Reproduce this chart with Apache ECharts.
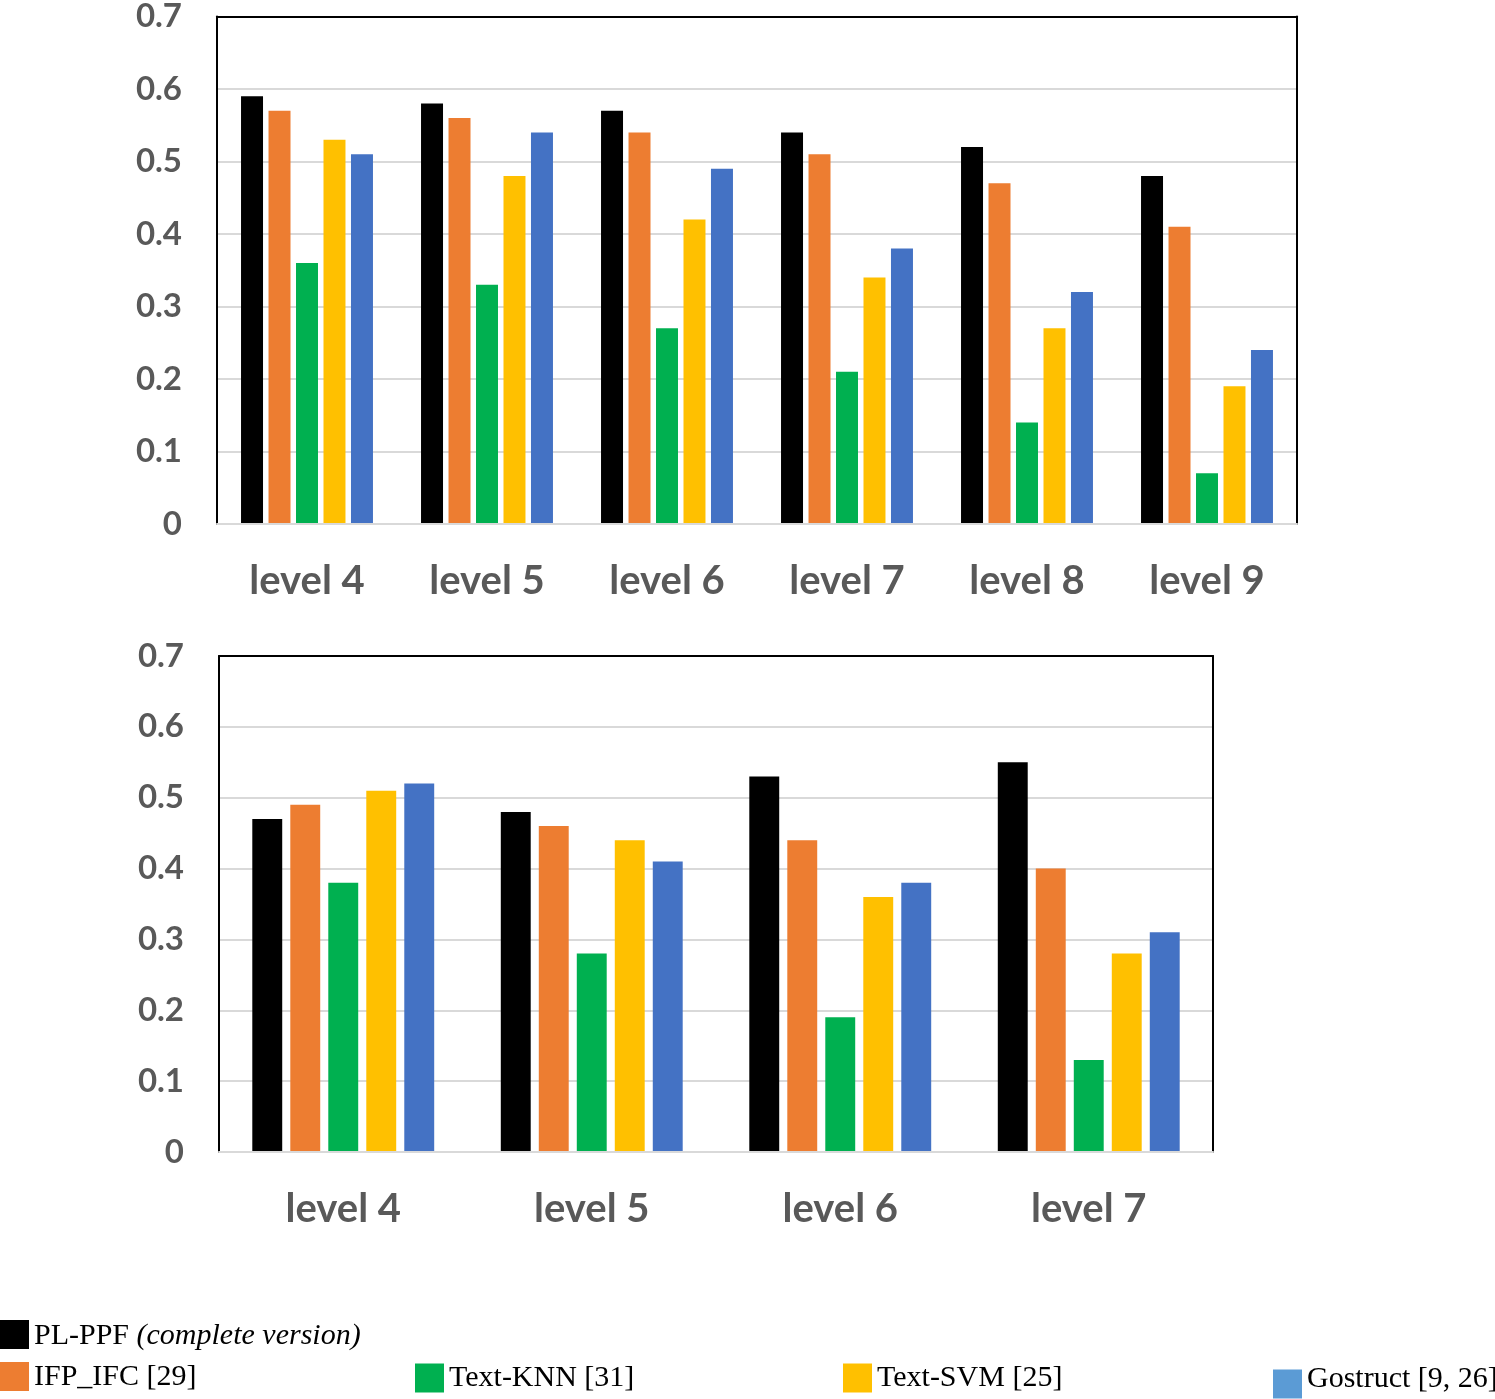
<!DOCTYPE html>
<html>
<head>
<meta charset="utf-8">
<script src="https://cdn.jsdelivr.net/npm/echarts@6/dist/echarts.min.js"></script>
<style>
html,body{margin:0;padding:0;background:#fff;}
#chart{width:1495px;height:1399px;}
</style>
</head>
<body>
<div id="chart"></div>
<script>
// ---- Data ----
const topCategories = ['level 4', 'level 5', 'level 6', 'level 7', 'level 8', 'level 9'];
const bottomCategories = ['level 4', 'level 5', 'level 6', 'level 7'];
const seriesNames = ['PL-PPF (complete version)', 'IFP_IFC [29]', 'Text-KNN [31]', 'Text-SVM [25]', 'Gostruct [9, 26]'];

const topPLPPF    = [0.59, 0.58, 0.57, 0.54, 0.52, 0.48];
const topIFPIFC   = [0.57, 0.56, 0.54, 0.51, 0.47, 0.41];
const topTextKNN  = [0.36, 0.33, 0.27, 0.21, 0.14, 0.07];
const topTextSVM  = [0.53, 0.48, 0.42, 0.34, 0.27, 0.19];
const topGostruct = [0.51, 0.54, 0.49, 0.38, 0.32, 0.24];

const botPLPPF    = [0.47, 0.48, 0.53, 0.55];
const botIFPIFC   = [0.49, 0.46, 0.44, 0.40];
const botTextKNN  = [0.38, 0.28, 0.19, 0.13];
const botTextSVM  = [0.51, 0.44, 0.36, 0.28];
const botGostruct = [0.52, 0.41, 0.38, 0.31];

const yTickLabels = ['0', '0.1', '0.2', '0.3', '0.4', '0.5', '0.6', '0.7'];

// ---- Styles ----
const colors = ['#000000', '#ED7D31', '#00B050', '#FFC000', '#4472C4'];
const legendColors = ['#000000', '#ED7D31', '#00B050', '#FFC000', '#5B9BD5'];
const labelFont = 'Lato, "Open Sans", sans-serif';
const labelColor = '#595959';

const topData = [topPLPPF, topIFPIFC, topTextKNN, topTextSVM, topGostruct];
const botData = [botPLPPF, botIFPIFC, botTextKNN, botTextSVM, botGostruct];

const grids = [
  {left: 217, top: 14, width: 1080, height: 510},
  {left: 219, top: 656, width: 994, height: 496}
];

function catAxes(gi, cats) {
  return [
    {
      type: 'category', gridIndex: gi, data: cats, position: 'bottom',
      axisLine: {show: true, onZero: false, lineStyle: {color: '#D9D9D9', width: 2}},
      axisTick: {show: false},
      axisLabel: {margin: 37, fontFamily: labelFont, fontWeight: 'bold', fontSize: 40, color: labelColor},
      z: 3
    },
    {
      type: 'category', gridIndex: gi, data: cats, position: 'top',
      axisLine: {show: true, onZero: false, lineStyle: {color: '#000', width: 2}},
      axisTick: {show: false}, axisLabel: {show: false}
    }
  ];
}
function valAxes(gi) {
  return [
    {
      type: 'value', gridIndex: gi, min: 0, max: 0.7, interval: 0.1, position: 'left',
      axisLine: {show: true, onZero: false, lineStyle: {color: '#000', width: 2}},
      axisTick: {show: false},
      splitLine: {show: true, lineStyle: {color: '#D9D9D9', width: 2}},
      axisLabel: {
        margin: 35, fontFamily: labelFont, fontWeight: 'bold', fontSize: 33, color: labelColor,
        formatter: function (v) { return yTickLabels[Math.round(v * 10)]; }
      }
    },
    {
      type: 'value', gridIndex: gi, min: 0, max: 0.7, interval: 0.1, position: 'right',
      axisLine: {show: true, onZero: false, lineStyle: {color: '#000', width: 2}},
      axisTick: {show: false}, axisLabel: {show: false}, splitLine: {show: false}
    }
  ];
}

const series = [];
seriesNames.forEach(function (name, i) {
  series.push({
    name: name, type: 'bar', xAxisIndex: 0, yAxisIndex: 0,
    data: topData[i], barGap: '25%', barCategoryGap: '26.7%',
    itemStyle: {color: colors[i]}, z: 2
  });
});
seriesNames.forEach(function (name, i) {
  series.push({
    name: name, type: 'bar', xAxisIndex: 2, yAxisIndex: 2,
    data: botData[i], barGap: '27%', barCategoryGap: '26.8%',
    itemStyle: {color: colors[i]}, z: 2
  });
});

const legendPos = [
  {left: 0, top: 1320, pad: [4, 0, 0, 0]},
  {left: 0, top: 1362, pad: [2, 0, 0, 0]},
  {left: 415, top: 1363, pad: [0, 0, 0, 0]},
  {left: 843, top: 1363, pad: [0, 0, 0, 0]},
  {left: 1273, top: 1364, pad: [0, 0, 10, 0]}
];
const legends = seriesNames.map(function (name, i) {
  return {
    data: [{name: name, itemStyle: {color: legendColors[i]}, icon: 'rect'}],
    left: legendPos[i].left, top: legendPos[i].top,
    padding: 0, itemWidth: 29, itemHeight: 29, itemGap: 0,
    selectedMode: false,
    formatter: function (n) {
      if (n.indexOf('(') >= 0) {
        const p = n.indexOf('(');
        return n.substring(0, p) + '{it|' + n.substring(p) + '}';
      }
      return n;
    },
    textStyle: {
      fontFamily: '"Liberation Serif", "Times New Roman", serif', fontSize: 30, color: '#000',
      padding: legendPos[i].pad,
      rich: {it: {fontStyle: 'italic', fontFamily: '"Liberation Serif", serif', fontSize: 30, color: '#000'}}
    }
  };
});

const option = {
  animation: false,
  backgroundColor: '#fff',
  grid: grids,
  legend: legends,
  xAxis: catAxes(0, topCategories).concat(catAxes(1, bottomCategories)),
  yAxis: valAxes(0).concat(valAxes(1)),
  series: series
};

const chart = echarts.init(document.getElementById('chart'), null, {renderer: 'canvas'});
chart.setOption(option);
</script>
</body>
</html>
